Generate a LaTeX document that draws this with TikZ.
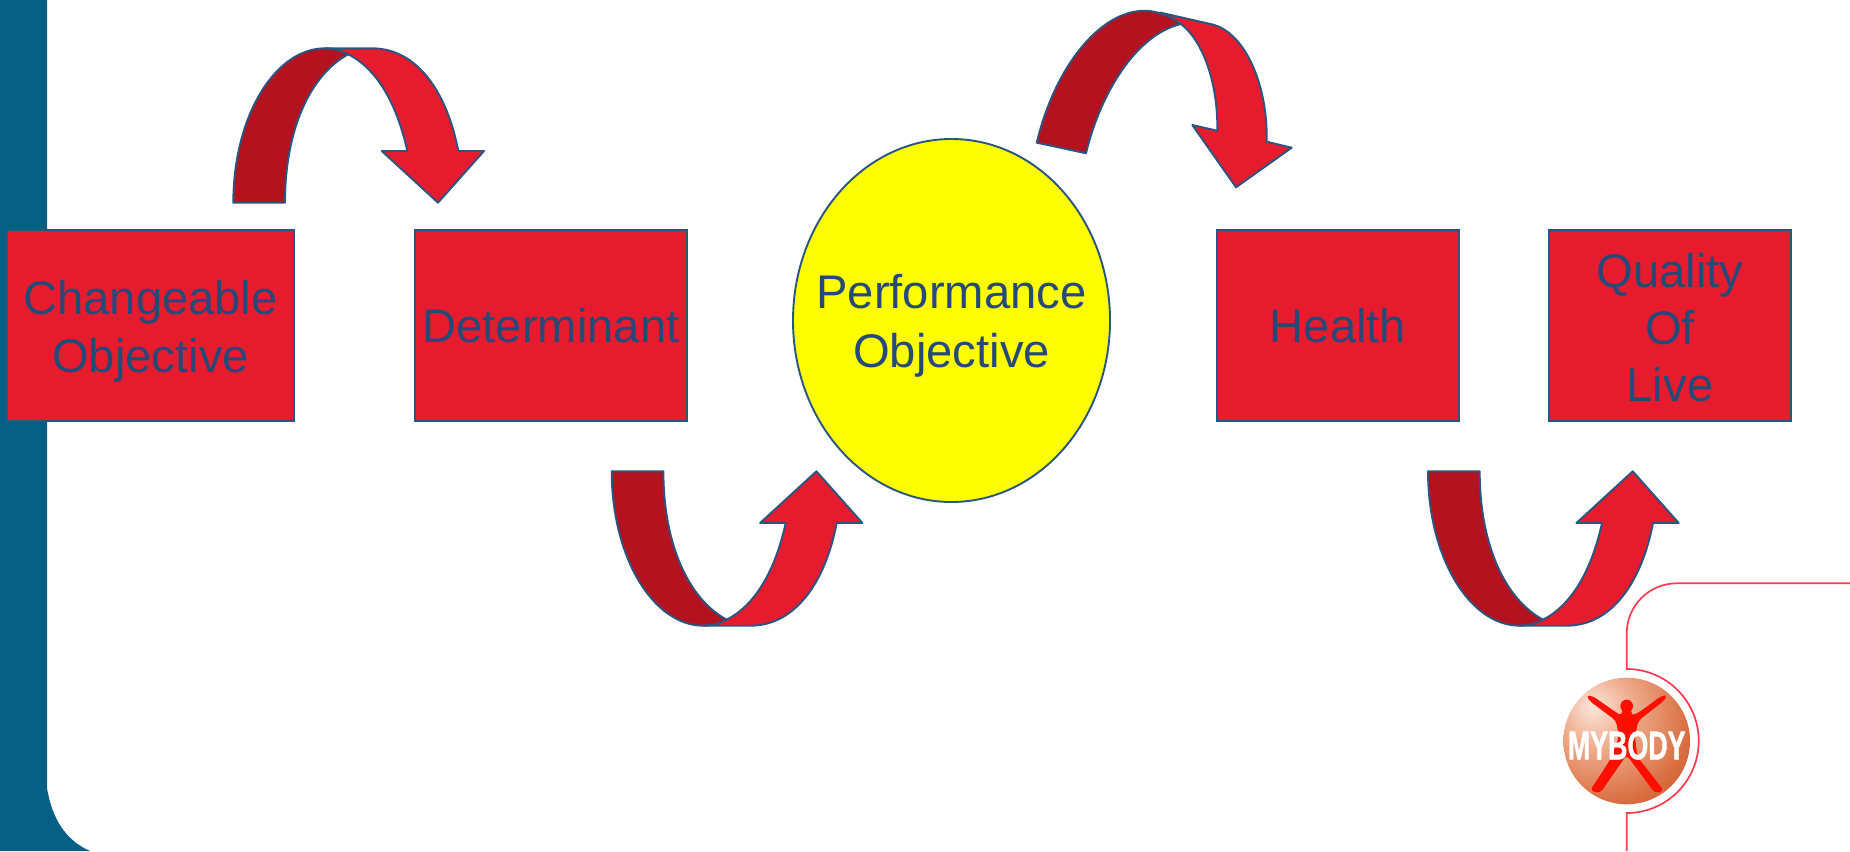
\documentclass[tikz,border=0pt]{standalone}
\usepackage{fontspec}
\usepackage{graphicx}
\setmainfont{Liberation Sans}
\newfontfamily\logofont[FakeBold=1.5]{Liberation Sans Bold}
\definecolor{barblue}{HTML}{066085}
\definecolor{edgeblue}{HTML}{2A5580}
\definecolor{textblue}{HTML}{264A78}
\definecolor{boxred}{HTML}{E61C2E}
\definecolor{darkred}{HTML}{B5121F}
\definecolor{linered}{HTML}{FF3A50}
\definecolor{sunyellow}{HTML}{FFFF00}
\definecolor{figred}{HTML}{FF0F00}
\definecolor{ballA}{HTML}{FBE6DA}
\definecolor{ballB}{HTML}{EFAE90}
\definecolor{ballC}{HTML}{D96D40}
\definecolor{ballD}{HTML}{BE441C}
\pgfdeclareradialshading{logoball}{\pgfpoint{-14bp}{14bp}}{%
  color(0bp)=(ballA);
  color(14bp)=(ballB);
  color(34bp)=(ballC);
  color(55bp)=(ballD);
  color(100bp)=(ballD)}
\tikzset{
  label text/.style={text=textblue,font=\fontsize{23.6pt}{28.6pt}\selectfont,align=center,inner sep=0pt},
  wide label/.style={label text,font=\fontsize{23.6pt}{29.3pt}\selectfont},
  boxshape/.style={label text,draw=edgeblue,fill=boxred,line width=.95pt,rectangle,minimum height=95.5pt},
  roundshape/.style={draw=edgeblue,fill=sunyellow,line width=.95pt,ellipse,inner sep=0pt,minimum width=158.5pt,minimum height=181.5pt},
  darkband/.style={draw=edgeblue,fill=darkred,line width=.95pt,line join=round},
  lightband/.style={draw=edgeblue,fill=boxred,line width=.95pt,line join=round}
}
\usetikzlibrary{shapes.geometric}
\newcommand{\bentarrow}{%
  \path[darkband] (233.3,202.7) .. controls (233.3,117.4) and (274.4,48.3) .. (325,48.3)
    .. controls (335,48.3) and (342,51) .. (348.3,54.3)
    .. controls (310,75) and (285,130) .. (285,202.7) -- cycle;
  \path[lightband] (325,48.3) -- (372,48.3)
    .. controls (417,48.3) and (447,92) .. (458.3,151)
    -- (484,151) -- (438,202.7) -- (381.7,151) -- (407.3,151)
    .. controls (396,100) and (375,68) .. (348.3,54.3)
    .. controls (342,51) and (335,48.3) .. (325,48.3) -- cycle;
}
\begin{document}
\begin{tikzpicture}[x=.5pt,y=-.5pt]
\useasboundingbox (0,0) rectangle (1850,851);
% side bar
\fill[barblue] (0,0) -- (47,0) -- (47,788) .. controls (52,818) and (65,840) .. (90,851) -- (0,851) -- cycle;
% boxes
\node[boxshape,minimum width=143.5pt,label={[name=changeabletext,wide label,yshift=-2.8pt]center:Changeable\\Objective}] (changeable) at (150.5,325.5) {};
\node[boxshape,minimum width=136pt] (determinant) at (551,325.5) {\raisebox{-.6pt}{Determinant}};
\node[roundshape,label={[name=performancetext,wide label,yshift=-2.8pt]center:Performance\\Objective}] (performance) at (951.5,320.5) {};
\node[boxshape,minimum width=121pt] (health) at (1338,325.5) {\raisebox{-.6pt}{Health}};
\node[boxshape,minimum width=121pt,label={[name=qualitytext,label text,yshift=-1.2pt]center:Quality\\Of\\Live}] (quality) at (1670,325.5) {};
% bent arrows
\bentarrow
\begin{scope}[shift={(378.4,674)},yscale=-1]\bentarrow\end{scope}
\begin{scope}[shift={(1194.7,674)},yscale=-1]\bentarrow\end{scope}
\path[darkband] (1036.7,142.7) .. controls (1054,70) and (1098,10.7) .. (1145,10.7)
  .. controls (1160,11) and (1172,18) .. (1181,24)
  .. controls (1135,35) and (1100,95) .. (1086,153.3) -- cycle;
\path[lightband] (1160,12.5) -- (1211.7,24.3)
  .. controls (1245,32) and (1268,85) .. (1266.7,141.7)
  -- (1291.7,147.7) -- (1236,187.3) -- (1192.3,125) -- (1217.3,130.7)
  .. controls (1218,85) and (1204,42) .. (1181,24)
  .. controls (1174,19) and (1167,15) .. (1160,12.5) -- cycle;
% thin outline
\draw[linered,line width=.85pt] (1850,583.3) -- (1676.7,583.3)
  .. controls (1649,583.3) and (1626.7,606) .. (1626.7,633.3)
  -- (1626.7,669) arc[start angle=-90,end angle=90,radius=72]
  -- (1626.7,851);
% logo
\shade[shading=logoball] (1626.7,741) circle[radius=63.3];
\begin{scope}[shift={(1500,560)},scale=.3333]
  \fill[figred,rounded corners=2pt] (258,406) -- (278,408) -- (345,455) -- (366,468) -- (366,440) -- (394,440) -- (394,468) -- (420,455) -- (485,407) -- (503,406)
    -- (490,424) -- (415,482) -- (405,530) -- (412,590) -- (492,692) -- (465,700) -- (380,585) -- (300,700) -- (270,692) -- (330,600) -- (357,530) -- (348,482) -- (270,424) -- cycle;
  \fill[figred] (380,438) circle[radius=19];
\end{scope}
\node[text=white,font=\fontsize{20pt}{22pt}\logofont,inner sep=0pt] (mybody) at (1626.7,745.5) {\scalebox{.67}[1]{MYBODY}};
\end{tikzpicture}
\end{document}
